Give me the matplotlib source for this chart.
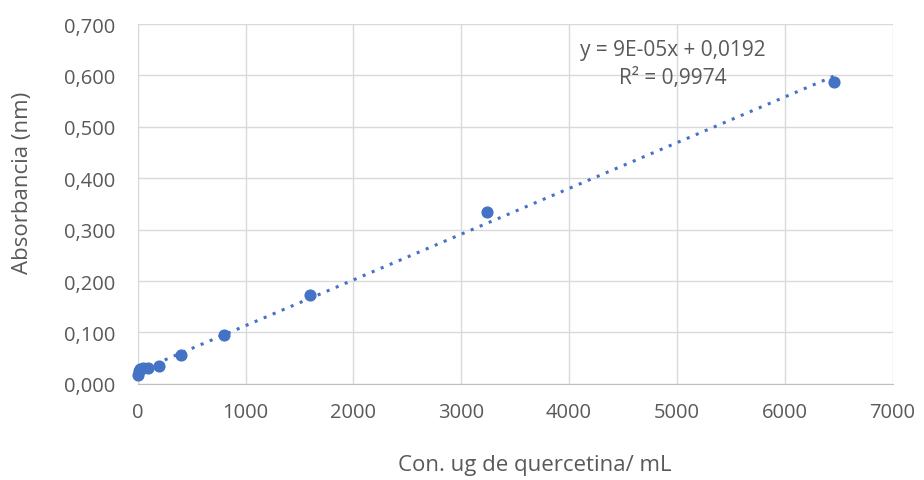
import matplotlib
matplotlib.use("Agg")
import matplotlib.pyplot as plt
import numpy as np
from matplotlib.ticker import FuncFormatter

conc = [0, 12, 25, 50, 100, 200, 400, 800, 1600, 3240, 6460]
absorb = [0.018, 0.025, 0.029, 0.030, 0.030, 0.034, 0.057, 0.095, 0.173, 0.334, 0.587]
eq_text = "y = 9E-05x + 0,0192"
r2_text = "R² = 0,9974"
xlabel = "Con. ug de quercetina/ mL"
ylabel = "Absorbancia (nm)"

plt.rcParams['font.family'] = ['Open Sans', 'DejaVu Sans']
gray = '#595959'
blue = '#4472C4'

fig = plt.figure(figsize=(9.24, 4.81), dpi=100)
ax = fig.add_axes([0.149, 0.2, 0.817, 0.748])

c = np.polyfit(conc, absorb, 1)
xs = np.array([min(conc), max(conc)])
ax.plot(xs, np.polyval(c, xs), linestyle=(0, (1, 2.2)), color=blue, lw=2.2, zorder=2)
ax.scatter(conc, absorb, s=60, color=blue, zorder=3, clip_on=False)

ax.set_xlim(0, 7000)
ax.set_ylim(0, 0.7)
ax.set_xticks(np.arange(0, 7001, 1000))
ax.set_yticks(np.arange(0, 0.701, 0.1))
ax.yaxis.set_major_formatter(FuncFormatter(lambda v, p: f"{v:.3f}".replace('.', ',')))
ax.grid(True, color='#d9d9d9', lw=1)
ax.set_axisbelow(True)
for s in ['top', 'right']:
    ax.spines[s].set_visible(False)
ax.spines['left'].set_color('#d9d9d9')
ax.spines['bottom'].set_color('#bfbfbf')
ax.tick_params(axis='both', length=0, labelsize=14.5, colors=gray)
ax.tick_params(axis='y', pad=16)
ax.tick_params(axis='x', pad=13)

fig.text(0.579, 0.033, xlabel, ha='center', va='center', fontsize=16, color=gray)
fig.text(0.024, 0.62, ylabel, ha='center', va='center', rotation=90, fontsize=16, color=gray)

ax.text(0.7094, 0.929, eq_text, transform=ax.transAxes, ha='center', va='center', fontsize=15, color=gray)
ax.text(0.7094, 0.851, r2_text, transform=ax.transAxes, ha='center', va='center', fontsize=15, color=gray)

fig.savefig("out.png", dpi=100)
